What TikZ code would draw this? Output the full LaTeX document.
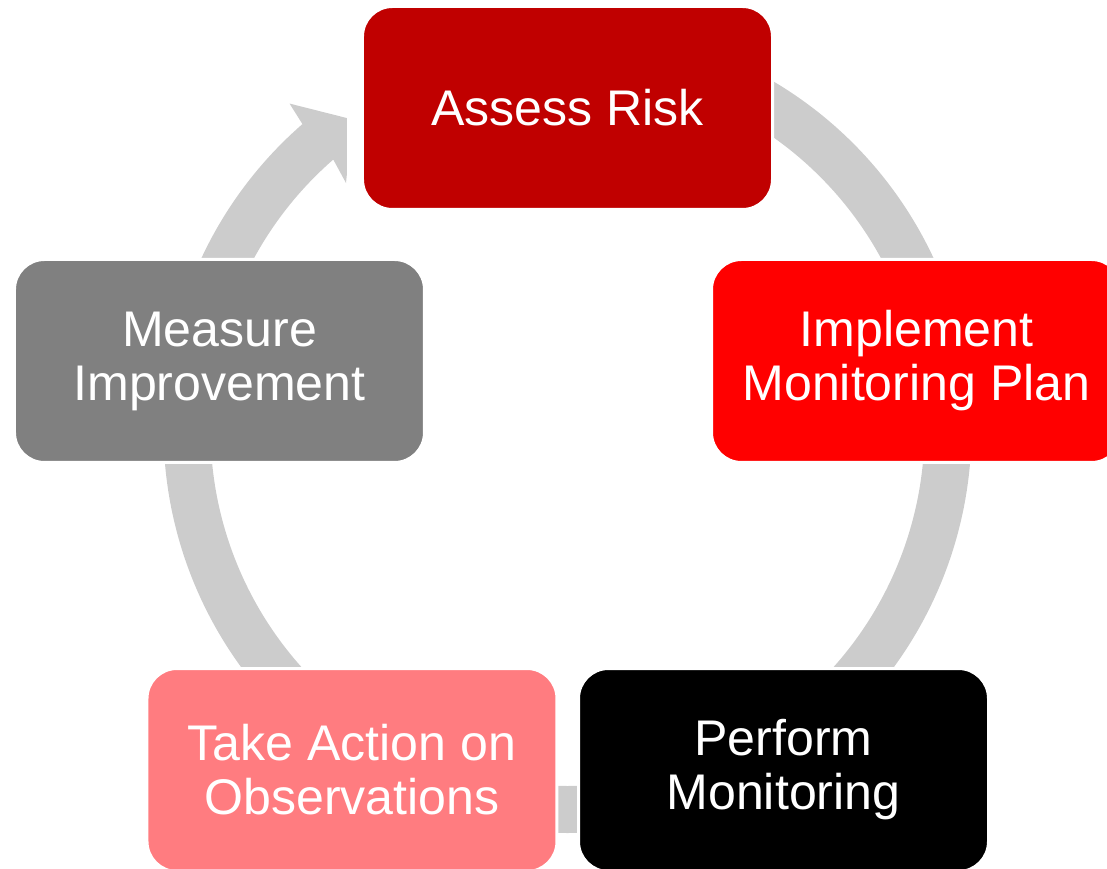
\documentclass[tikz,border=0pt]{standalone}
\usepackage{fontspec}
\setmainfont{Liberation Sans}
\usepackage{tikz}

\definecolor{riskred}{HTML}{C00000}
\definecolor{planred}{HTML}{FF0000}
\definecolor{actionpink}{HTML}{FF7C80}
\definecolor{measuregrey}{HTML}{808080}
\definecolor{ringgrey}{HTML}{CCCCCC}

\begin{document}
\begin{tikzpicture}[
		stage/.style={rectangle, rounded corners=0.6cm, draw=white, line width=0.06cm,
			minimum width=8.2cm, minimum height=4.06cm, text=white, align=center,
			font={\fontsize{28.5}{30.7}\selectfont}},
		ring/.style={draw=ringgrey, line width=0.94cm}
	]
  \useasboundingbox (-11.35cm, -8.8cm) rectangle (10.79cm, 8.58cm);

  % grey ring behind the boxes
  \draw[ring] (70:7.61cm) arc[start angle=70, end angle=15, radius=7.61cm];
  \draw[ring] (5:7.61cm) arc[start angle=5, end angle=-55, radius=7.61cm];
  \draw[ring] (-80:7.61cm) arc[start angle=-80, end angle=-100, radius=7.61cm];
  \draw[ring] (-125:7.61cm) arc[start angle=-125, end angle=-185, radius=7.61cm];
  % last piece ends in the arrow head
  \begin{scope}
    \clip (-11.35cm, -8.8cm) rectangle (-4.41cm, 8.58cm);
    \fill[ringgrey] (170:8.08cm) arc[start angle=170, end angle=131, radius=8.08cm]
      -- (130.5:8.56cm) -- (124.8:7.54cm) -- (132:6.62cm) -- (131:7.14cm)
      arc[start angle=131, end angle=170, radius=7.14cm] -- cycle;
  \end{scope}

  \node (assess) [stage, fill=riskred] at (0cm, 6.42cm) {Assess Risk};
  \node (plan) [stage, fill=planred] at (6.98cm, 1.36cm) {Implement\\Monitoring Plan};
  \node (perform) [stage, fill=black] at (4.32cm, -6.82cm) {Perform\\Monitoring};
  \node (action) [stage, fill=actionpink] at (-4.31cm, -6.82cm) {Take Action on\\Observations};
  \node (measure) [stage, fill=measuregrey] at (-6.96cm, 1.36cm) {Measure\\Improvement};
\end{tikzpicture}
\end{document}
